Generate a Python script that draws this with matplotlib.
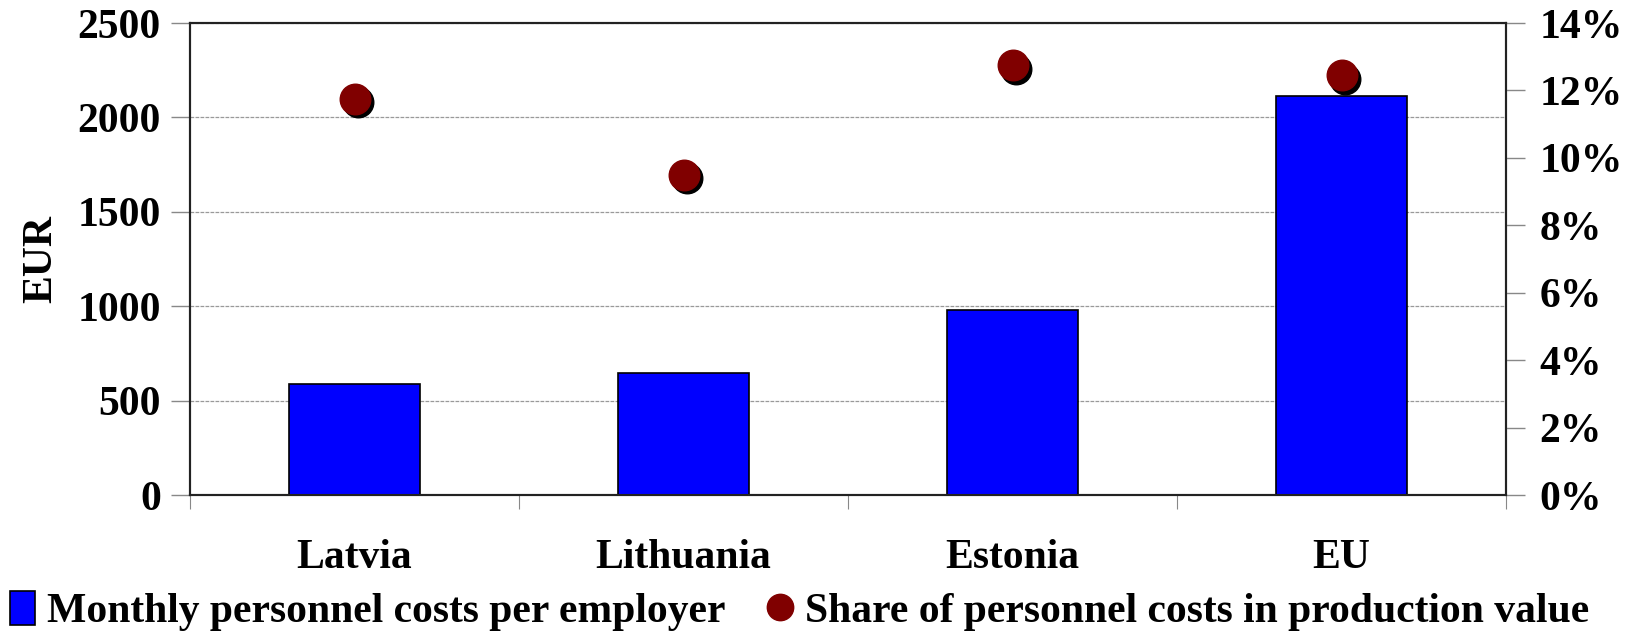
import numpy as np
import matplotlib
matplotlib.use("Agg")
import matplotlib.pyplot as plt
import matplotlib.transforms as mtransforms
from matplotlib.lines import Line2D
from matplotlib.patches import Patch

countries = ["Latvia", "Lithuania", "Estonia", "EU"]
monthly_costs = [590, 646, 982, 2114]          # EUR, left axis
share_costs = [11.75, 9.5, 12.75, 12.45]       # %, right axis

plt.rcParams['font.family'] = ['Liberation Serif', 'DejaVu Serif']
plt.rcParams['font.weight'] = 'bold'
fs = 30

fig = plt.figure(figsize=(16.34, 6.34), dpi=100)
ax = fig.add_axes([0.1163, 0.2192, 0.8054, 0.7445])
ax2 = ax.twinx()

x = np.arange(len(countries))
ax.bar(x, monthly_costs, width=0.4, color='#0000FF', edgecolor='black', linewidth=1.2, zorder=3)
ax.set_ylim(0, 2500)
ax.set_yticks(np.arange(0, 2501, 500))
ax.yaxis.grid(True, color='#999999', linewidth=0.9, linestyle=(0, (3, 1)), zorder=0)
ax.set_axisbelow(True)
ax.set_ylabel("EUR", fontsize=fs, fontweight='bold', labelpad=12)

# x ticks at category boundaries, labels in between
ax.set_xlim(-0.5, 3.5)
ax.set_xticks(np.arange(-0.5, 4, 1.0))
ax.set_xticklabels([])
ax.set_xticks(x, minor=True)
ax.set_xticklabels(countries, minor=True, fontsize=fs, fontweight='bold')
ax.tick_params(axis='x', which='major', length=10, color='#888888')
ax.tick_params(axis='x', which='minor', length=0, pad=32)
ax.tick_params(axis='y', length=14, width=1, color='#888888', labelsize=fs, pad=7)

# shadowed markers on the right axis
shadow = mtransforms.offset_copy(ax2.transData, fig=fig, x=2.5, y=-2.5, units='points')
ax2.plot(x, share_costs, 'o', color='black', markersize=22, transform=shadow, zorder=4)
ax2.plot(x, share_costs, 'o', color='#800000', markersize=22, zorder=5)
ax2.set_ylim(0, 14)
ax2.set_yticks(np.arange(0, 15, 2))
ax2.set_yticklabels([f"{v}%" for v in range(0, 15, 2)])
ax2.tick_params(axis='y', length=14, width=1, color='#888888', labelsize=fs, pad=10)

for a in (ax, ax2):
    for s in a.spines.values():
        s.set_linewidth(1.5)
        s.set_color('#222222')
for lab in ax.get_yticklabels() + ax2.get_yticklabels():
    lab.set_fontweight('bold')

handles = [
    Patch(facecolor='#0000FF', edgecolor='black', linewidth=1.2),
    Line2D([], [], marker='o', linestyle='none', color='#800000', markersize=19),
]
fig.legend(handles, ["Monthly personnel costs per employer",
                     "Share of personnel costs in production value"],
           loc='lower left', bbox_to_anchor=(0.006, 0.004), ncol=2, frameon=False,
           prop={'weight': 'bold', 'size': fs}, borderpad=0, borderaxespad=0,
           handlelength=0.6, handleheight=0.9, handletextpad=0.3, columnspacing=1.0)

fig.savefig("out.png", dpi=100)
